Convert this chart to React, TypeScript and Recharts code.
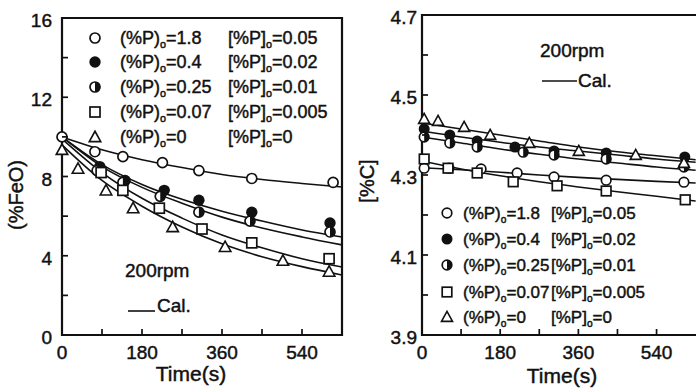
import { ComposedChart, Line, ReferenceArea, Scatter, XAxis, YAxis } from "recharts";

const INK = "#111";
const FONT = "'Liberation Sans', Arial, sans-serif";
const TXT = { fontFamily: FONT, fill: INK, stroke: INK, strokeWidth: 0.45 };

// time axis (s), shared by both panels
const timeTicks = [0, 90, 180, 270, 360, 450, 540];
const timeTickLabels = ["0", "", "180", "", "360", "", "540"];
const calcTime = [0, 90, 180, 270, 360, 450, 540, 630];

// left panel: (%FeO)
const feoTicks = [0, 2, 4, 6, 8, 10, 12, 14, 16];
const feoTickLabels = ["0", "", "4", "", "8", "", "12", "", "16"];

const feoOpenT = [0, 74, 137, 226, 308, 427, 610];
const feoOpenV = [10, 9.25, 9.0, 8.7, 8.3, 7.9, 7.7];
const feoFilledT = [85, 142, 230, 308, 427, 603];
const feoFilledV = [8.5, 7.8, 7.3, 6.8, 6.2, 5.65];
const feoHalfT = [79, 137, 221, 308, 423, 603];
const feoHalfV = [8.3, 7.7, 7.0, 6.2, 5.75, 5.2];
const feoSquareT = [88, 137, 219, 315, 427, 601];
const feoSquareV = [8.2, 7.3, 6.4, 5.35, 4.65, 3.85];
const feoTriT = [0, 36, 99, 160, 249, 367, 497, 601];
const feoTriV = [9.35, 8.4, 7.3, 6.4, 5.45, 4.45, 3.75, 3.2];

const feoCalcOpen = [10, 9.35, 8.85, 8.45, 8.1, 7.85, 7.65, 7.47];
const feoCalcFilled = [10, 8.6, 7.6, 6.85, 6.25, 5.75, 5.3, 4.95];
const feoCalcHalf = [10, 8.5, 7.45, 6.65, 5.95, 5.4, 4.95, 4.55];
const feoCalcSquare = [9.9, 8.2, 6.9, 5.9, 5.05, 4.4, 3.85, 3.43];
const feoCalcTri = [9.6, 7.8, 6.5, 5.45, 4.6, 3.95, 3.45, 3.03];

// right panel: [%C]
const cTicks = [3.9, 4.0, 4.1, 4.2, 4.3, 4.4, 4.5, 4.6, 4.7];
const cTickLabels = ["3.9", "", "4.1", "", "4.3", "", "4.5", "", "4.7"];

const cTriT = [5, 37, 97, 157, 247, 361, 492, 603];
const cTriV = [4.44, 4.435, 4.42, 4.4, 4.38, 4.36, 4.35, 4.33];
const cFilledT = [5, 64, 127, 214, 304, 424, 605];
const cFilledV = [4.415, 4.4, 4.385, 4.37, 4.36, 4.355, 4.345];
const cHalfT = [5, 64, 127, 233, 304, 424, 603];
const cHalfV = [4.395, 4.38, 4.37, 4.357, 4.35, 4.34, 4.32];
const cOpenT = [5, 62, 136, 219, 304, 424, 603];
const cOpenV = [4.317, 4.317, 4.315, 4.305, 4.295, 4.287, 4.282];
const cSquareT = [5, 60, 127, 210, 311, 424, 606];
const cSquareV = [4.34, 4.317, 4.305, 4.283, 4.273, 4.26, 4.238];

const cCalcTri = [4.43, 4.415, 4.4, 4.385, 4.37, 4.358, 4.348, 4.338];
const cCalcFilled = [4.41, 4.395, 4.382, 4.37, 4.36, 4.35, 4.34, 4.332];
const cCalcHalf = [4.395, 4.38, 4.365, 4.352, 4.34, 4.33, 4.32, 4.312];
const cCalcOpen = [4.318, 4.313, 4.307, 4.3, 4.294, 4.289, 4.284, 4.28];
const cCalcSquare = [4.335, 4.315, 4.298, 4.283, 4.27, 4.258, 4.247, 4.235];

// legend
const slagP = ["1.8", "0.4", "0.25", "0.07", "0"];
const metalP = ["0.05", "0.02", "0.01", "0.005", "0"];

const pts = (t: number[], v: number[]) => t.map((x, i) => ({ t: x, v: v[i] }));

type ShapeProps = { cx?: number; cy?: number; r?: number };

function OpenCircle({ cx = 0, cy = 0, r = 5 }: ShapeProps) {
  return <circle cx={cx} cy={cy} r={r} fill="#fff" stroke={INK} strokeWidth={1.7} />;
}
function FilledCircle({ cx = 0, cy = 0, r = 5 }: ShapeProps) {
  return <circle cx={cx} cy={cy} r={r + 0.7} fill={INK} />;
}
function HalfCircle({ cx = 0, cy = 0, r = 5 }: ShapeProps) {
  return (
    <g>
      <circle cx={cx} cy={cy} r={r} fill="#fff" stroke={INK} strokeWidth={1.7} />
      <path d={`M${cx},${cy - r} A${r},${r} 0 0 1 ${cx},${cy + r} Z`} fill={INK} />
    </g>
  );
}
function OpenSquare({ cx = 0, cy = 0, r = 5 }: ShapeProps) {
  return <rect x={cx - r} y={cy - r} width={2 * r} height={2 * r} fill="#fff" stroke={INK} strokeWidth={1.7} />;
}
function OpenTriangle({ cx = 0, cy = 0, r = 5 }: ShapeProps) {
  const h = r * 1.15;
  return (
    <polygon
      points={`${cx},${cy - h} ${cx - h},${cy + h * 0.8} ${cx + h},${cy + h * 0.8}`}
      fill="#fff"
      stroke={INK}
      strokeWidth={1.6}
    />
  );
}
const markers = [OpenCircle, FilledCircle, HalfCircle, OpenSquare, OpenTriangle];

function makeXTick(labels: string[]) {
  return (props: any) => {
    const { x, y, index } = props;
    const label = labels[index];
    return (
      <g>
        <line x1={x} x2={x} y1={y} y2={y - 6} stroke={INK} strokeWidth={1.7} />
        {label && (
          <text x={x} y={y + 24} textAnchor="middle" fontSize={19} {...TXT}>
            {label}
          </text>
        )}
      </g>
    );
  };
}

function makeYTick(labels: string[], gap: number) {
  return (props: any) => {
    const { x, y, index } = props;
    const label = labels[index];
    return (
      <g>
        <line x1={x} x2={x + 6} y1={y} y2={y} stroke={INK} strokeWidth={1.7} />
        {label && (
          <text x={x - gap} y={y + 9} textAnchor="end" fontSize={19} {...TXT}>
            {label}
          </text>
        )}
      </g>
    );
  };
}

function PText({ x, y, open, close, value, size }: { x: number; y: number; open: string; close: string; value: string; size: number }) {
  return (
    <text x={x} y={y} fontSize={size} {...TXT}>
      {`${open}%P${close}`}
      <tspan fontSize={size * 0.6} dy={4}>o</tspan>
      <tspan dy={-4}>{`=${value}`}</tspan>
    </text>
  );
}

function LegendBlock({ mx, col1, col2, rows, size, r }: { mx: number; col1: number; col2: number; rows: number[]; size: number; r: number }) {
  return (
    <g>
      {rows.map((ry, i) => {
        const M = markers[i];
        return (
          <g key={i}>
            <M cx={mx} cy={ry} r={r} />
            <PText x={col1} y={ry + 6} open="(" close=")" value={slagP[i]} size={size} />
            <PText x={col2} y={ry + 6} open="[" close="]" value={metalP[i]} size={size} />
          </g>
        );
      })}
    </g>
  );
}

function FeoPanel() {
  const calc = [feoCalcOpen, feoCalcFilled, feoCalcHalf, feoCalcSquare, feoCalcTri];
  const obs = [
    pts(feoOpenT, feoOpenV),
    pts(feoFilledT, feoFilledV),
    pts(feoHalfT, feoHalfV),
    pts(feoSquareT, feoSquareV),
    pts(feoTriT, feoTriV),
  ];
  return (
    <ComposedChart width={360} height={390} margin={{ top: 18, right: 18, bottom: 54, left: 61 }}>
      <XAxis
        dataKey="t"
        type="number"
        domain={[0, 630]}
        ticks={timeTicks}
        interval={0}
        height={1}
        axisLine={false}
        tickLine={false}
        tickSize={0}
        tickMargin={0}
        tick={makeXTick(timeTickLabels)}
      />
      <YAxis
        type="number"
        domain={[0, 16]}
        ticks={feoTicks}
        interval={0}
        width={1}
        axisLine={false}
        tickLine={false}
        tickSize={0}
        tickMargin={0}
        tick={makeYTick(feoTickLabels, 10)}
      />
      <ReferenceArea x1={0} x2={630} y1={0} y2={16} fill="none" stroke={INK} strokeWidth={2.2} ifOverflow="visible" />
      {calc.map((c, i) => (
        <Line
          key={`c${i}`}
          data={pts(calcTime, c)}
          dataKey="v"
          type="monotone"
          stroke={INK}
          strokeWidth={1.6}
          dot={false}
          activeDot={false}
          isAnimationActive={false}
        />
      ))}
      {obs.map((d, i) => {
        const M = markers[i];
        return (
          <Scatter
            key={`s${i}`}
            data={d}
            dataKey="v"
            shape={(p: any) => <M cx={p.cx} cy={p.cy} r={5} />}
            isAnimationActive={false}
          />
        );
      })}
    </ComposedChart>
  );
}

function CarbonPanel() {
  const calc = [cCalcOpen, cCalcFilled, cCalcHalf, cCalcSquare, cCalcTri];
  const obs = [
    pts(cOpenT, cOpenV),
    pts(cFilledT, cFilledV),
    pts(cHalfT, cHalfV),
    pts(cSquareT, cSquareV),
    pts(cTriT, cTriV),
  ];
  return (
    <ComposedChart width={360} height={390} margin={{ top: 15, right: 10, bottom: 54, left: 71 }}>
      <XAxis
        dataKey="t"
        type="number"
        domain={[0, 640]}
        ticks={timeTicks}
        interval={0}
        height={1}
        axisLine={false}
        tickLine={false}
        tickSize={0}
        tickMargin={0}
        tick={makeXTick(timeTickLabels)}
      />
      <YAxis
        type="number"
        domain={[3.9, 4.7]}
        ticks={cTicks}
        interval={0}
        width={1}
        axisLine={false}
        tickLine={false}
        tickSize={0}
        tickMargin={0}
        tick={makeYTick(cTickLabels, 5)}
      />
      <ReferenceArea x1={0} x2={640} y1={3.9} y2={4.7} fill="none" stroke={INK} strokeWidth={2.2} ifOverflow="visible" />
      {calc.map((c, i) => (
        <Line
          key={`c${i}`}
          data={pts(calcTime, c)}
          dataKey="v"
          type="monotone"
          stroke={INK}
          strokeWidth={1.6}
          dot={false}
          activeDot={false}
          isAnimationActive={false}
        />
      ))}
      {obs.map((d, i) => {
        const M = markers[i];
        return (
          <Scatter
            key={`s${i}`}
            data={d}
            dataKey="v"
            shape={(p: any) => <M cx={p.cx} cy={p.cy} r={4.8} />}
            isAnimationActive={false}
          />
        );
      })}
    </ComposedChart>
  );
}

export default function App() {
  return (
    <div style={{ position: "absolute", left: 0, top: 0, width: 696, height: 390, overflow: "hidden", background: "#fff" }}>
      <div style={{ position: "absolute", left: 0, top: 0 }}>
        <FeoPanel />
      </div>
      <div style={{ position: "absolute", left: 350, top: 0 }}>
        <CarbonPanel />
      </div>
      <svg width={696} height={390} style={{ position: "absolute", left: 0, top: 0, pointerEvents: "none" }}>
        <LegendBlock mx={95} col1={120} col2={228} rows={[38, 62, 87, 112, 137]} size={18} r={5} />
        <LegendBlock mx={447} col1={463} col2={551} rows={[213, 239, 265, 292, 317]} size={17} r={4.8} />

        <text x={125} y={277} fontSize={19} {...TXT}>200rpm</text>
        <line x1={128} x2={155} y1={311} y2={311} stroke={INK} strokeWidth={1.6} />
        <text x={157} y={312} fontSize={19} {...TXT}>Cal.</text>

        <text x={540} y={57} fontSize={19} {...TXT}>200rpm</text>
        <line x1={542} x2={577} y1={81} y2={81} stroke={INK} strokeWidth={1.6} />
        <text x={578} y={87} fontSize={19} {...TXT}>Cal.</text>

        <text x={191} y={381} textAnchor="middle" fontSize={21} {...TXT}>Time(s)</text>
        <text x={562} y={383} textAnchor="middle" fontSize={21} {...TXT}>Time(s)</text>

        <text transform="translate(23,195) rotate(-90)" textAnchor="middle" fontSize={20} {...TXT}>(%FeO)</text>
        <text transform="translate(374,181) rotate(-90)" textAnchor="middle" fontSize={20} {...TXT}>[%C]</text>
      </svg>
    </div>
  );
}
